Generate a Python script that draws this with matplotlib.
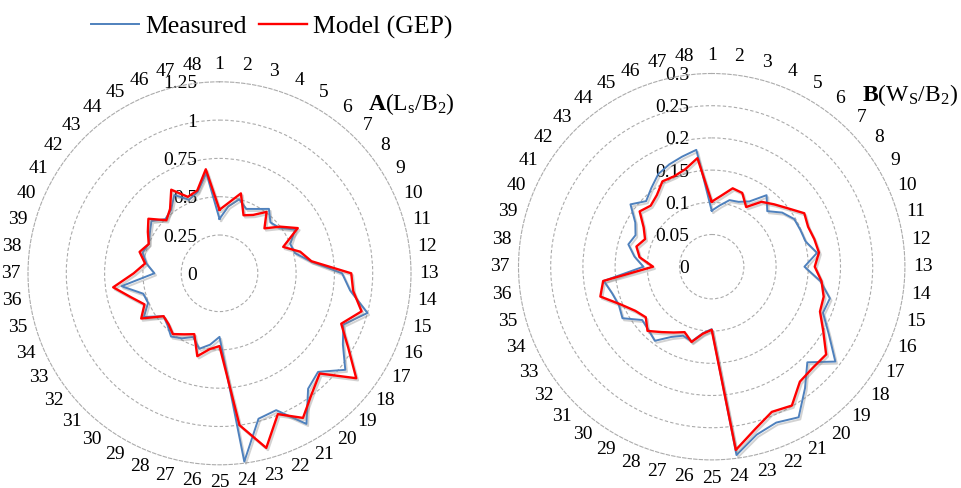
import numpy as np
import matplotlib
matplotlib.use("Agg")
import matplotlib.pyplot as plt
import matplotlib.patheffects as pe
from matplotlib.lines import Line2D

plt.rcParams['font.family'] = ['Liberation Serif', 'DejaVu Serif']
plt.rcParams['mathtext.fontset'] = 'custom'
plt.rcParams['mathtext.rm'] = 'Liberation Serif'
plt.rcParams['mathtext.it'] = 'Liberation Serif:italic'
plt.rcParams['mathtext.bf'] = 'Liberation Serif:bold'

# 48 test cases, clockwise from the top
categories = [str(i) for i in range(1, 49)]

# A: Ls/B2
ls_measured = [0.355, 0.44, 0.50, 0.455, 0.485, 0.53, 0.47, 0.49, 0.57, 0.50, 0.51, 0.60,
               0.80, 0.86, 1.00, 0.875, 0.93, 1.035, 0.91, 0.95, 1.135, 0.967, 0.983, 1.24,
               0.415, 0.47, 0.51, 0.45, 0.49, 0.52, 0.48, 0.46, 0.57, 0.505, 0.515, 0.645,
               0.425, 0.48, 0.52, 0.50, 0.525, 0.56, 0.50, 0.52, 0.59, 0.52, 0.55, 0.66]
ls_model = [0.415, 0.465, 0.54, 0.41, 0.44, 0.505, 0.415, 0.50, 0.59, 0.45, 0.545, 0.605,
            0.86, 0.88, 0.96, 0.86, 0.97, 1.125, 0.925, 0.99, 1.09, 0.995, 1.18, 1.00,
            0.475, 0.50, 0.56, 0.43, 0.46, 0.50, 0.47, 0.46, 0.59, 0.53, 0.60, 0.70,
            0.56, 0.49, 0.54, 0.50, 0.54, 0.585, 0.49, 0.53, 0.63, 0.54, 0.56, 0.685]

# B: Ws/B2
ws_measured = [0.087, 0.096, 0.107, 0.109, 0.117, 0.140, 0.122, 0.138, 0.148, 0.149, 0.151, 0.165,
               0.144, 0.170, 0.190, 0.187, 0.210, 0.242, 0.210, 0.238, 0.270, 0.262, 0.270, 0.295,
               0.097, 0.104, 0.120, 0.116, 0.126, 0.145, 0.139, 0.136, 0.160, 0.156, 0.160, 0.169,
               0.106, 0.121, 0.134, 0.128, 0.137, 0.159, 0.144, 0.154, 0.166, 0.172, 0.177, 0.183]
ws_model = [0.101, 0.111, 0.126, 0.124, 0.107, 0.127, 0.137, 0.149, 0.166, 0.162, 0.165, 0.168,
            0.160, 0.172, 0.180, 0.182, 0.200, 0.224, 0.222, 0.225, 0.249, 0.244, 0.261, 0.287,
            0.098, 0.105, 0.121, 0.110, 0.118, 0.128, 0.141, 0.129, 0.137, 0.153, 0.179, 0.170,
            0.091, 0.113, 0.121, 0.112, 0.122, 0.141, 0.134, 0.140, 0.153, 0.152, 0.157, 0.170]

ls_ticks = [0, 0.25, 0.5, 0.75, 1, 1.25]
ls_tick_labels = ['0', '0.25', '0.5', '0.75', '1', '1.25']
ws_ticks = [0, 0.05, 0.1, 0.15, 0.2, 0.25, 0.3]
ws_tick_labels = ['0', '0.05', '0.1', '0.15', '0.2', '0.25', '0.3']

BLUE = '#4F81BD'
RED = '#FF0000'
GRID = '#ababab'
FS = 14


def close(vals):
    return np.append(vals, vals[0])


def draw_radar(ax, measured, model, ticks, tick_labels, label_factor):
    n = len(categories)
    theta = np.arange(n) * 2 * np.pi / n
    rmax = ticks[-1]

    ax.set_theta_zero_location('N')
    ax.set_theta_direction(-1)
    ax.set_ylim(0, rmax)
    ax.set_yticks(ticks[1:-1])
    ax.set_yticklabels([])
    ax.set_xticks([])
    ax.yaxis.grid(True, color=GRID, linestyle=(0, (3, 2)), linewidth=0.8)
    ax.spines['polar'].set_linestyle((0, (3, 2)))
    ax.spines['polar'].set_edgecolor(GRID)
    ax.spines['polar'].set_linewidth(0.8)
    ax.patch.set_alpha(0)

    shadow = [pe.SimpleLineShadow(offset=(1.2, -1.5), shadow_color='#808080', alpha=0.35),
              pe.Normal()]
    ax.plot(np.append(theta, theta[0]), close(measured), color=BLUE, lw=1.4,
            path_effects=shadow, zorder=3, clip_on=False)
    ax.plot(np.append(theta, theta[0]), close(model), color=RED, lw=1.7,
            path_effects=shadow, zorder=4, clip_on=False)

    # category labels round the outside
    for t, c in zip(theta, categories):
        ax.text(t, rmax * label_factor, c, ha='center', va='center', fontsize=FS,
                clip_on=False)

    # value labels up the vertical axis
    for r, lab in zip(ticks, tick_labels):
        ax.annotate(lab, xy=(0, r), xytext=(-16, 0), textcoords='offset points',
                    ha='right', va='center_baseline', fontsize=FS, annotation_clip=False,
                    zorder=2)


fig = plt.figure(figsize=(9.61, 4.88), dpi=100)
W, H = 961.0, 488.0

ax1 = fig.add_axes([28 / W, 1 - 464.8 / H, 383 / W, 383 / H], projection='polar')
draw_radar(ax1, ls_measured, ls_model, ls_ticks, ls_tick_labels, 1.092)

ax2 = fig.add_axes([518.5 / W, 1 - 459.9 / H, 386.4 / W, 386.4 / H], projection='polar')
draw_radar(ax2, ws_measured, ws_model, ws_ticks, ws_tick_labels, 1.095)

fig.text(368 / W, 1 - 104 / H, r'$\mathbf{A}$(L$_\mathrm{s}$/B$_2$)', fontsize=17,
         ha='left', va='center')
fig.text(862 / W, 1 - 95 / H, r'$\mathbf{B}$(W$_\mathrm{S}$/B$_2$)', fontsize=17,
         ha='left', va='center')

handles = [Line2D([], [], color=BLUE, lw=1.4), Line2D([], [], color=RED, lw=1.7)]
fig.legend(handles, ['Measured', 'Model (GEP)'], loc='center left',
           bbox_to_anchor=(91 / W, 1 - 27 / H), ncol=2, frameon=False, fontsize=18.5,
           handlelength=1.85, handletextpad=0.25, columnspacing=0.5,
           borderaxespad=0, borderpad=0)

fig.savefig('out.png', dpi=100)
